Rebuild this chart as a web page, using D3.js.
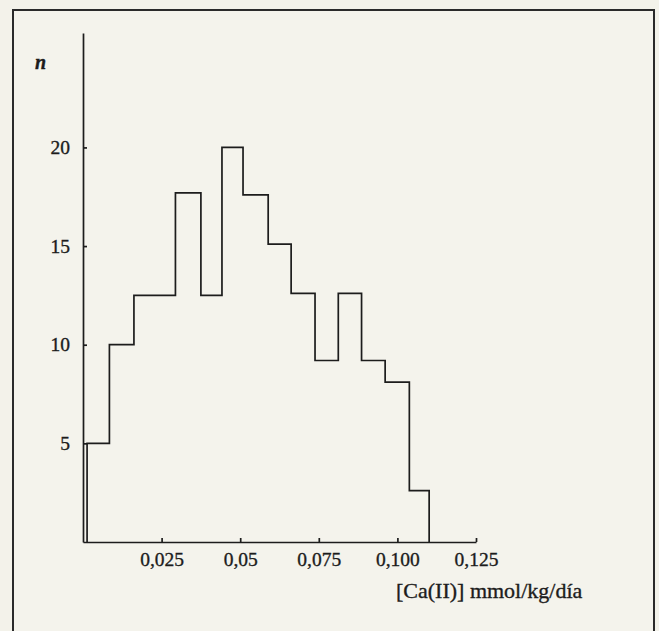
<!DOCTYPE html>
<html>
<head>
<meta charset="utf-8">
<script src="https://cdn.jsdelivr.net/npm/d3@7"></script>
<style>
  html, body { margin: 0; padding: 0; background: #f3f2ea; }
  svg { display: block; }
  text { font-family: "Liberation Serif", "DejaVu Serif", serif; fill: #1c1c1c; stroke: #1c1c1c; stroke-width: 0.35px; }
</style>
</head>
<body>
<svg width="659" height="631"></svg>
<script>
// bin edges (mmol/kg/dia) and counts
const binEdges = [0.0013, 0.0084, 0.0162, 0.0294, 0.0375, 0.0442, 0.0509, 0.0589,
                  0.0662, 0.0738, 0.0812, 0.0886, 0.0961, 0.1038, 0.1101];
const counts = [5, 10, 12.5, 17.7, 12.5, 20, 17.6, 15.1, 12.6, 9.2, 12.6, 9.2, 8.1, 2.6];

const xTicks = [0.025, 0.05, 0.075, 0.1, 0.125];
const xTickLabels = ["0,025", "0,05", "0,075", "0,100", "0,125"];
const yTicks = [5, 10, 15, 20];
const yTickLabels = ["5", "10", "15", "20"];

const svg = d3.select("svg");

// marco
svg.append("rect")
  .attr("x", 13).attr("y", 10)
  .attr("width", 641).attr("height", 640)
  .attr("fill", "#f4f3ec")
  .attr("stroke", "#2a2a2a")
  .attr("stroke-width", 2);

const x = d3.scaleLinear().domain([0, 0.125]).range([83, 476]);
const y = d3.scaleLinear().domain([0, 25.8]).range([542, 33]);

// eje x
const xAxis = svg.append("g")
  .attr("transform", "translate(0," + y(0) + ")")
  .call(d3.axisBottom(x)
    .tickValues(xTicks)
    .tickSizeInner(-4)
    .tickSizeOuter(0)
    .tickPadding(10)
    .tickFormat((d, i) => xTickLabels[i]));
xAxis.select(".domain").attr("stroke", "#1c1c1c").attr("stroke-width", 1.7);
xAxis.selectAll(".tick line").attr("stroke", "#1c1c1c").attr("stroke-width", 1.7);
xAxis.selectAll(".tick text")
  .attr("font-size", 19.5)
  .attr("font-family", "Liberation Serif")
  .attr("fill", "#1c1c1c");

// eje y
const yAxis = svg.append("g")
  .attr("transform", "translate(" + x(0) + ",0)")
  .call(d3.axisLeft(y)
    .tickValues(yTicks)
    .tickSizeInner(-4)
    .tickSizeOuter(0)
    .tickPadding(13)
    .tickFormat((d, i) => yTickLabels[i]));
yAxis.select(".domain").attr("stroke", "#1c1c1c").attr("stroke-width", 1.7);
yAxis.selectAll(".tick line").attr("stroke", "#1c1c1c").attr("stroke-width", 1.7);
yAxis.selectAll(".tick text")
  .attr("font-size", 19.5)
  .attr("font-family", "Liberation Serif")
  .attr("fill", "#1c1c1c");

// histograma como una sola linea escalonada
const pts = [[binEdges[0], 0]];
counts.forEach((c, i) => {
  pts.push([binEdges[i], c]);
  pts.push([binEdges[i + 1], c]);
});
pts.push([binEdges[binEdges.length - 1], 0]);

svg.append("path")
  .datum(pts)
  .attr("fill", "none")
  .attr("stroke", "#1c1c1c")
  .attr("stroke-width", 1.7)
  .attr("d", d3.line().x(d => x(d[0])).y(d => y(d[1])));

// titulos de ejes
svg.append("text")
  .attr("x", 35).attr("y", 69)
  .attr("font-size", 20)
  .attr("font-style", "italic")
  .attr("font-weight", "bold")
  .text("n");

svg.append("text")
  .attr("x", 396).attr("y", 598)
  .attr("font-size", 22)
  .text("[Ca(II)] mmol/kg/día");
</script>
</body>
</html>
